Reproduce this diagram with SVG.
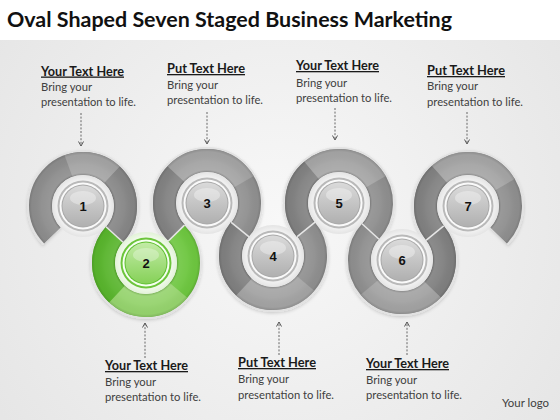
<svg xmlns="http://www.w3.org/2000/svg" width="560" height="420" viewBox="0 0 560 420">
<defs>
<radialGradient id="bg" cx="280" cy="220" r="340" gradientUnits="userSpaceOnUse">
<stop offset="0" stop-color="#f8f8f8"/><stop offset="1" stop-color="#e6e6e6"/>
</radialGradient>
<radialGradient id="tube" cx="0.5" cy="0.5" r="0.7">
<stop offset="0.52" stop-color="#000" stop-opacity="0.16"/>
<stop offset="0.56" stop-color="#fff" stop-opacity="0.10"/>
<stop offset="0.70" stop-color="#fff" stop-opacity="0.05"/>
<stop offset="0.86" stop-color="#000" stop-opacity="0.02"/>
<stop offset="0.91" stop-color="#000" stop-opacity="0.14"/>
</radialGradient>
<radialGradient id="halo" cx="0.5" cy="0.5" r="0.5">
<stop offset="0.75" stop-color="#f7f7f7"/><stop offset="1" stop-color="#e4e4e4"/>
</radialGradient>
<radialGradient id="haloG" cx="0.5" cy="0.5" r="0.5">
<stop offset="0.75" stop-color="#f6fcf2"/><stop offset="1" stop-color="#e2f2d8"/>
</radialGradient>
<linearGradient id="disc" x1="0" y1="0" x2="0" y2="1">
<stop offset="0" stop-color="#dadada"/><stop offset="1" stop-color="#b0b0b0"/>
</linearGradient>
<linearGradient id="discG" x1="0" y1="0" x2="0" y2="1">
<stop offset="0" stop-color="#c2eba6"/><stop offset="1" stop-color="#86d158"/>
</linearGradient>
<filter id="sh" x="-20%" y="-20%" width="140%" height="140%">
<feDropShadow dx="0" dy="1.5" stdDeviation="1.5" flood-color="#000" flood-opacity="0.15"/>
</filter>
<marker id="ah" viewBox="0 0 6 6" refX="5" refY="3" markerWidth="6" markerHeight="6" markerUnits="userSpaceOnUse" orient="auto">
<path d="M0.5,0.5 L5,3 L0.5,5.5" fill="none" stroke="#555" stroke-width="1"/>
</marker>
<style>
.ring{fill:none;stroke-width:23}
.glow{fill:none;stroke:#e2e2e2;stroke-width:27}
.shade{fill:none;stroke:url(#tube);stroke-width:23}
.jn{stroke:#e6e6e6;stroke-width:1.5}
.num{font-family:"Liberation Sans",Arial,sans-serif;font-weight:bold;font-size:13px;fill:#111;text-anchor:middle}
.hd{font-family:Lato,"Liberation Sans",sans-serif;font-weight:bold;font-size:13px;fill:#1a1a1a;text-decoration:underline}
.bd{font-family:Lato,"Liberation Sans",sans-serif;font-size:12px;fill:#404040}
.ar{stroke:#666;stroke-width:1;stroke-dasharray:2 1.6;fill:none;marker-end:url(#ah)}
</style>
</defs>

<rect width="560" height="420" fill="#ffffff"/>
<rect y="40" width="560" height="380" fill="url(#bg)"/>

<text x="7" y="26.5" font-family="Lato,'Liberation Sans',sans-serif" font-weight="bold" font-size="21" fill="#111" textLength="445" lengthAdjust="spacingAndGlyphs">Oval Shaped Seven Staged Business Marketing</text>

<g id="ring-outlines" filter="url(#sh)">
<circle class="glow" cx="83" cy="206" r="42.5" pathLength="360" stroke-dasharray="266.1 400" transform="rotate(136 83 206)"/>
<circle class="glow" cx="146" cy="263" r="42.5" pathLength="360" stroke-dasharray="266.6 400" transform="rotate(-44.5 146 263)"/>
<circle class="glow" cx="207" cy="203" r="42.5" pathLength="360" stroke-dasharray="263.3 400" transform="rotate(135.5 207 203)"/>
<circle class="glow" cx="273" cy="256" r="42.5" pathLength="360" stroke-dasharray="257.6 400" transform="rotate(-38.8 273 256)"/>
<circle class="glow" cx="339" cy="203" r="42.5" pathLength="360" stroke-dasharray="260.9 400" transform="rotate(141.2 339 203)"/>
<circle class="glow" cx="402" cy="260" r="42.5" pathLength="360" stroke-dasharray="261.4 400" transform="rotate(-39.3 402 260)"/>
<circle class="glow" cx="468" cy="206" r="42.5" pathLength="360" stroke-dasharray="263.3 400" transform="rotate(140.7 468 206)"/>
</g>

<g id="node1">
<circle class="ring" stroke="#8c8c8c" cx="83" cy="206" r="42.5" pathLength="360" stroke-dasharray="266.1 400" transform="rotate(136 83 206)"/>
<circle class="ring" stroke="#a3a3a3" cx="83" cy="206" r="42.5" pathLength="360" stroke-dasharray="63 400" transform="rotate(250 83 206)"/>
<circle class="ring" stroke="#858585" cx="83" cy="206" r="42.5" pathLength="360" stroke-dasharray="89.1 400" transform="rotate(313 83 206)"/>
<circle class="shade" cx="83" cy="206" r="42.5" pathLength="360" stroke-dasharray="266.1 400" transform="rotate(136 83 206)"/>
<circle cx="83" cy="206" r="31" fill="url(#halo)"/>
<circle cx="83" cy="206" r="25.5" fill="#b9b9b9"/>
<circle cx="83" cy="206" r="23.5" fill="#fafafa"/>
<circle cx="83" cy="206" r="21.5" fill="#a9a9a9"/>
<circle cx="83" cy="206" r="20.5" fill="url(#disc)"/>
<ellipse cx="83" cy="198" rx="13" ry="7" fill="#fff" opacity="0.35"/>
<text class="num" x="83" y="210.5">1</text>
</g>

<g id="node2">
<circle class="ring" stroke="#6dc63f" cx="146" cy="263" r="42.5" pathLength="360" stroke-dasharray="266.6 400" transform="rotate(-44.5 146 263)"/>
<circle class="ring" stroke="#58b42c" cx="146" cy="263" r="42.5" pathLength="360" stroke-dasharray="89.1 400" transform="rotate(133 146 263)"/>
<circle class="ring" stroke="#95d36d" cx="146" cy="263" r="42.5" pathLength="360" stroke-dasharray="93 400" transform="rotate(40 146 263)"/>
<circle class="shade" cx="146" cy="263" r="42.5" pathLength="360" stroke-dasharray="266.6 400" transform="rotate(-44.5 146 263)"/>
<circle cx="146" cy="263" r="31" fill="url(#haloG)"/>
<circle cx="146" cy="263" r="25.5" fill="#6cc53b"/>
<circle cx="146" cy="263" r="23.5" fill="#f5fff0"/>
<circle cx="146" cy="263" r="21.5" fill="#5fbf30"/>
<circle cx="146" cy="263" r="20.5" fill="url(#discG)"/>
<ellipse cx="146" cy="255" rx="13" ry="7" fill="#fff" opacity="0.3"/>
<text class="num" x="146" y="267.5">2</text>
</g>

<g id="node3">
<circle class="ring" stroke="#8f8f8f" cx="207" cy="203" r="42.5" pathLength="360" stroke-dasharray="263.3 400" transform="rotate(135.5 207 203)"/>
<circle class="ring" stroke="#818181" cx="207" cy="203" r="42.5" pathLength="360" stroke-dasharray="87.5 400" transform="rotate(135.5 207 203)"/>
<circle class="ring" stroke="#a3a3a3" cx="207" cy="203" r="42.5" pathLength="360" stroke-dasharray="107 400" transform="rotate(223 207 203)"/>
<circle class="shade" cx="207" cy="203" r="42.5" pathLength="360" stroke-dasharray="263.3 400" transform="rotate(135.5 207 203)"/>
<circle cx="207" cy="203" r="31" fill="url(#halo)"/>
<circle cx="207" cy="203" r="25.5" fill="#b9b9b9"/>
<circle cx="207" cy="203" r="23.5" fill="#fafafa"/>
<circle cx="207" cy="203" r="21.5" fill="#a9a9a9"/>
<circle cx="207" cy="203" r="20.5" fill="url(#disc)"/>
<ellipse cx="207" cy="195" rx="13" ry="7" fill="#fff" opacity="0.35"/>
<text class="num" x="207" y="207.5">3</text>
</g>

<g id="node4">
<circle class="ring" stroke="#8e8e8e" cx="273" cy="256" r="42.5" pathLength="360" stroke-dasharray="257.6 400" transform="rotate(-38.8 273 256)"/>
<circle class="ring" stroke="#7f7f7f" cx="273" cy="256" r="42.5" pathLength="360" stroke-dasharray="85.8 400" transform="rotate(133 273 256)"/>
<circle class="ring" stroke="#a3a3a3" cx="273" cy="256" r="42.5" pathLength="360" stroke-dasharray="93 400" transform="rotate(40 273 256)"/>
<circle class="shade" cx="273" cy="256" r="42.5" pathLength="360" stroke-dasharray="257.6 400" transform="rotate(-38.8 273 256)"/>
<circle cx="273" cy="256" r="31" fill="url(#halo)"/>
<circle cx="273" cy="256" r="25.5" fill="#b9b9b9"/>
<circle cx="273" cy="256" r="23.5" fill="#fafafa"/>
<circle cx="273" cy="256" r="21.5" fill="#a9a9a9"/>
<circle cx="273" cy="256" r="20.5" fill="url(#disc)"/>
<ellipse cx="273" cy="248" rx="13" ry="7" fill="#fff" opacity="0.35"/>
<text class="num" x="273" y="260.5">4</text>
</g>

<g id="node5">
<circle class="ring" stroke="#8e8e8e" cx="339" cy="203" r="42.5" pathLength="360" stroke-dasharray="260.9 400" transform="rotate(141.2 339 203)"/>
<circle class="ring" stroke="#808080" cx="339" cy="203" r="42.5" pathLength="360" stroke-dasharray="88.8 400" transform="rotate(141.2 339 203)"/>
<circle class="ring" stroke="#a4a4a4" cx="339" cy="203" r="42.5" pathLength="360" stroke-dasharray="100 400" transform="rotate(230 339 203)"/>
<circle class="shade" cx="339" cy="203" r="42.5" pathLength="360" stroke-dasharray="260.9 400" transform="rotate(141.2 339 203)"/>
<circle cx="339" cy="203" r="31" fill="url(#halo)"/>
<circle cx="339" cy="203" r="25.5" fill="#b9b9b9"/>
<circle cx="339" cy="203" r="23.5" fill="#fafafa"/>
<circle cx="339" cy="203" r="21.5" fill="#a9a9a9"/>
<circle cx="339" cy="203" r="20.5" fill="url(#disc)"/>
<ellipse cx="339" cy="195" rx="13" ry="7" fill="#fff" opacity="0.35"/>
<text class="num" x="339" y="207.5">5</text>
</g>

<g id="node6">
<circle class="ring" stroke="#8e8e8e" cx="402" cy="260" r="42.5" pathLength="360" stroke-dasharray="261.4 400" transform="rotate(-39.3 402 260)"/>
<circle class="ring" stroke="#7f7f7f" cx="402" cy="260" r="42.5" pathLength="360" stroke-dasharray="83.3 400" transform="rotate(-39.3 402 260)"/>
<circle class="ring" stroke="#a2a2a2" cx="402" cy="260" r="42.5" pathLength="360" stroke-dasharray="96 400" transform="rotate(44 402 260)"/>
<circle class="shade" cx="402" cy="260" r="42.5" pathLength="360" stroke-dasharray="261.4 400" transform="rotate(-39.3 402 260)"/>
<circle cx="402" cy="260" r="31" fill="url(#halo)"/>
<circle cx="402" cy="260" r="25.5" fill="#b9b9b9"/>
<circle cx="402" cy="260" r="23.5" fill="#fafafa"/>
<circle cx="402" cy="260" r="21.5" fill="#a9a9a9"/>
<circle cx="402" cy="260" r="20.5" fill="url(#disc)"/>
<ellipse cx="402" cy="252" rx="13" ry="7" fill="#fff" opacity="0.35"/>
<text class="num" x="402" y="264.5">6</text>
</g>

<g id="node7">
<circle class="ring" stroke="#8e8e8e" cx="468" cy="206" r="42.5" pathLength="360" stroke-dasharray="263.3 400" transform="rotate(140.7 468 206)"/>
<circle class="ring" stroke="#808080" cx="468" cy="206" r="42.5" pathLength="360" stroke-dasharray="87.3 400" transform="rotate(140.7 468 206)"/>
<circle class="ring" stroke="#a4a4a4" cx="468" cy="206" r="42.5" pathLength="360" stroke-dasharray="102 400" transform="rotate(228 468 206)"/>
<circle class="shade" cx="468" cy="206" r="42.5" pathLength="360" stroke-dasharray="263.3 400" transform="rotate(140.7 468 206)"/>
<circle cx="468" cy="206" r="31" fill="url(#halo)"/>
<circle cx="468" cy="206" r="25.5" fill="#b9b9b9"/>
<circle cx="468" cy="206" r="23.5" fill="#fafafa"/>
<circle cx="468" cy="206" r="21.5" fill="#a9a9a9"/>
<circle cx="468" cy="206" r="20.5" fill="url(#disc)"/>
<ellipse cx="468" cy="198" rx="13" ry="7" fill="#fff" opacity="0.35"/>
<text class="num" x="468" y="210.5">7</text>
</g>

<g id="connectors">
<line class="jn" x1="105.99" y1="226.80" x2="123.04" y2="242.23"/>
<line class="jn" x1="168.10" y1="241.26" x2="184.50" y2="225.13"/>
<line class="jn" x1="231.17" y1="222.41" x2="249.10" y2="236.81"/>
<line class="jn" x1="297.17" y1="236.59" x2="315.10" y2="222.19"/>
<line class="jn" x1="361.99" y1="223.80" x2="379.04" y2="239.23"/>
<line class="jn" x1="425.99" y1="240.37" x2="443.79" y2="225.81"/>
<line class="ar" x1="81" y1="113" x2="81" y2="146"/>
<line class="ar" x1="207" y1="112" x2="207" y2="144"/>
<line class="ar" x1="335" y1="108" x2="335" y2="140"/>
<line class="ar" x1="467" y1="112" x2="467" y2="144"/>
<line class="ar" x1="145" y1="358" x2="145" y2="323"/>
<line class="ar" x1="279" y1="355" x2="279" y2="322"/>
<line class="ar" x1="407" y1="355" x2="407" y2="322"/>
</g>

<g id="labels">
<text class="hd" x="41" y="75.5" textLength="83" lengthAdjust="spacingAndGlyphs">Your Text Here</text>
<text class="bd" x="41" y="91" textLength="51" lengthAdjust="spacingAndGlyphs">Bring your</text>
<text class="bd" x="41" y="106" textLength="95" lengthAdjust="spacingAndGlyphs">presentation to life.</text>

<text class="hd" x="167" y="73" textLength="78" lengthAdjust="spacingAndGlyphs">Put Text Here</text>
<text class="bd" x="167" y="89" textLength="51" lengthAdjust="spacingAndGlyphs">Bring your</text>
<text class="bd" x="167" y="104" textLength="96" lengthAdjust="spacingAndGlyphs">presentation to life.</text>

<text class="hd" x="296" y="70" textLength="83" lengthAdjust="spacingAndGlyphs">Your Text Here</text>
<text class="bd" x="296" y="87" textLength="51" lengthAdjust="spacingAndGlyphs">Bring your</text>
<text class="bd" x="296" y="102" textLength="96" lengthAdjust="spacingAndGlyphs">presentation to life.</text>

<text class="hd" x="427" y="75" textLength="78" lengthAdjust="spacingAndGlyphs">Put Text Here</text>
<text class="bd" x="427" y="90" textLength="51" lengthAdjust="spacingAndGlyphs">Bring your</text>
<text class="bd" x="427" y="106" textLength="96" lengthAdjust="spacingAndGlyphs">presentation to life.</text>

<text class="hd" x="105" y="370" textLength="83" lengthAdjust="spacingAndGlyphs">Your Text Here</text>
<text class="bd" x="105" y="385.5" textLength="51" lengthAdjust="spacingAndGlyphs">Bring your</text>
<text class="bd" x="105" y="401" textLength="96" lengthAdjust="spacingAndGlyphs">presentation to life.</text>

<text class="hd" x="238" y="367" textLength="78" lengthAdjust="spacingAndGlyphs">Put Text Here</text>
<text class="bd" x="238" y="383" textLength="51" lengthAdjust="spacingAndGlyphs">Bring your</text>
<text class="bd" x="238" y="399" textLength="96" lengthAdjust="spacingAndGlyphs">presentation to life.</text>

<text class="hd" x="366" y="368" textLength="83" lengthAdjust="spacingAndGlyphs">Your Text Here</text>
<text class="bd" x="366" y="384" textLength="51" lengthAdjust="spacingAndGlyphs">Bring your</text>
<text class="bd" x="366" y="399" textLength="96" lengthAdjust="spacingAndGlyphs">presentation to life.</text>

<text class="bd" x="502" y="407" font-size="11.5" fill="#333" textLength="47" lengthAdjust="spacingAndGlyphs">Your logo</text>
</g>
</svg>
